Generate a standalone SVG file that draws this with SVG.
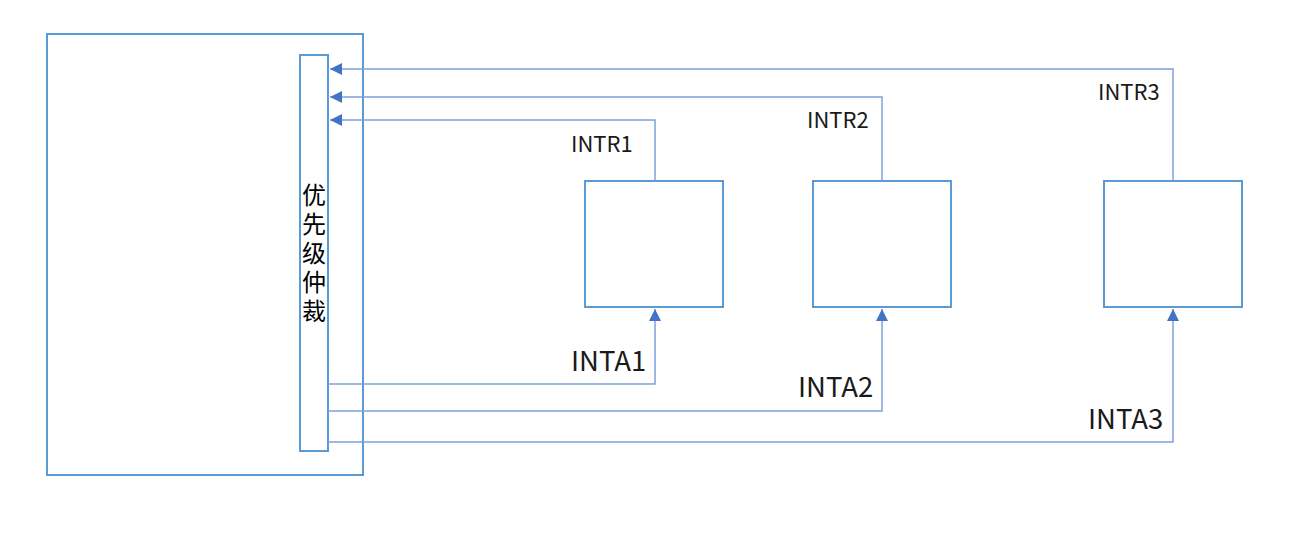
<svg xmlns="http://www.w3.org/2000/svg" width="1298" height="560" viewBox="0 0 1298 560">
<defs>
<style>
.box{fill:#fff;stroke:#5B9BD5;stroke-width:2}
.con{fill:none;stroke:#7EA1DB;stroke-width:1.5}
.t1{font-family:"Noto Sans CJK SC","Noto Sans",sans-serif;font-size:22px;fill:#1a1a1a}
.t2{font-family:"Noto Sans CJK SC","Noto Sans",sans-serif;font-size:27.5px;fill:#1a1a1a}
.cn{font-family:"Noto Sans CJK SC",sans-serif;font-size:24px;fill:#000;writing-mode:vertical-rl;letter-spacing:5px}
</style>
<marker id="ah" viewBox="0 0 10 10" refX="10" refY="5" markerWidth="12" markerHeight="12" markerUnits="userSpaceOnUse" orient="auto">
<path d="M0,0 L10,5 L0,10 z" fill="#4472C4"/>
</marker>
</defs>
<rect width="1298" height="560" fill="#fff"/>
<g id="cpu"><rect class="box" x="47" y="34" width="316" height="441"/></g>
<g id="arbiter"><rect class="box" x="300" y="55" width="28" height="396"/>
<text class="cn" x="314" y="183">优先级仲裁</text></g>
<g id="dev1"><rect class="box" x="585" y="181" width="138" height="126"/></g>
<g id="dev2"><rect class="box" x="813" y="181" width="138" height="126"/></g>
<g id="dev3"><rect class="box" x="1104" y="181" width="138" height="126"/></g>
<g id="connectors">
<path class="con" d="M655,181 V120 H330" marker-end="url(#ah)"/>
<path class="con" d="M882,181 V97 H330" marker-end="url(#ah)"/>
<path class="con" d="M1173,181 V69 H330" marker-end="url(#ah)"/>
<path class="con" d="M328,384 H655 V309" marker-end="url(#ah)"/>
<path class="con" d="M328,411 H882 V309" marker-end="url(#ah)"/>
<path class="con" d="M328,442 H1173 V309" marker-end="url(#ah)"/>
</g>
<g id="labels">
<text class="t1" x="571" y="152">INTR1</text>
<text class="t1" x="807" y="128">INTR2</text>
<text class="t1" x="1098" y="100">INTR3</text>
<text class="t2" x="571" y="371">INTA1</text>
<text class="t2" x="798" y="397">INTA2</text>
<text class="t2" x="1088" y="429">INTA3</text>
</g>
</svg>
